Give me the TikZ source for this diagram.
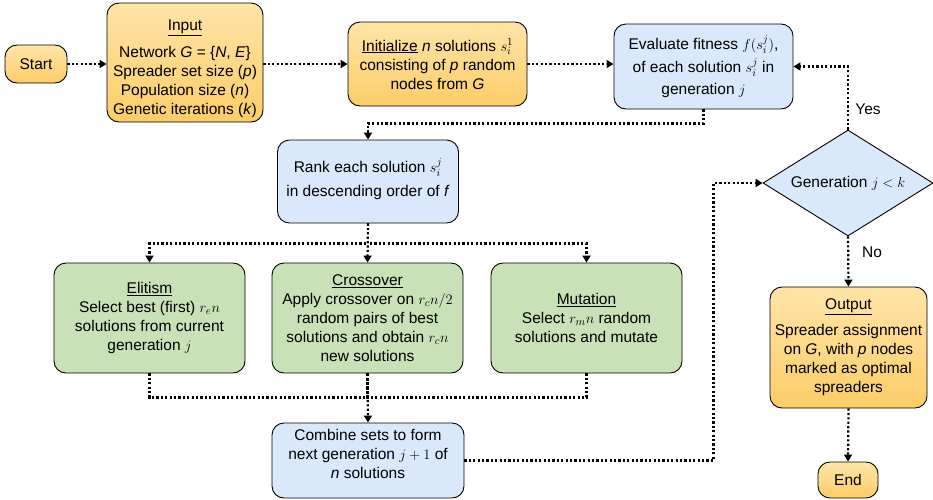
\documentclass[tikz,border=0pt]{standalone}
\usepackage{fontspec}
\setmainfont{Liberation Sans}
\usetikzlibrary{arrows.meta,shapes.geometric}

\definecolor{orangetop}{RGB}{255,228,168}
\definecolor{orangebot}{RGB}{252,205,104}
\definecolor{stepblue}{RGB}{218,232,252}
\definecolor{stepgreen}{RGB}{200,225,183}

\newcommand\boxfont{\fontsize{15.5}{19}\selectfont}

\tikzset{
  box/.style={draw=black, line width=0.9pt, rounded corners=12pt, align=center,
    font=\boxfont, inner sep=2pt},
  orangebox/.style={box, top color=orangetop, bottom color=orangebot},
  bluebox/.style={box, fill=stepblue},
  greenbox/.style={box, fill=stepgreen},
  flow/.style={line width=2.2pt, dash pattern=on 2.2pt off 2.2pt,
    -{Triangle[length=7pt,width=8pt]}},
  flowline/.style={line width=2.2pt, dash pattern=on 2.2pt off 2.2pt},
  lbl/.style={font=\boxfont, inner sep=0pt}
}

\begin{document}
\begin{tikzpicture}[x=1pt,y=-1pt]
\useasboundingbox (0,0) rectangle (933,499);

% ---- nodes ----
\node[orangebox, minimum width=62pt, minimum height=38pt] (start) at (36,64) {Start};

\node[orangebox, minimum width=156pt, minimum height=119pt] (input) at (185,62.5)
  {\rule{0pt}{23pt}\underline{Input}\\[8pt]
   Network \textit{G} = \{\textit{N}, \textit{E}\}\\
   Spreader set size (\textit{p})\\
   Population size (\textit{n})\\
   Genetic iterations (\textit{k})};

\node[orangebox, minimum width=179pt, minimum height=84pt] (init) at (437.5,64)
  {\underline{Initialize} \textit{n} solutions $s_i^1$\\
   consisting of \textit{p} random\\
   nodes from \textit{G}};

\node[bluebox, minimum width=179pt, minimum height=85pt] (eval) at (703.5,66.5)
  {Evaluate fitness $f(s_i^j)$,\\[4pt]
   of each solution $s_i^j$ in\\[3pt]
   generation $j$};

\node[bluebox, minimum width=181pt, minimum height=83pt] (rank) at (368,181.5)
  {Rank each solution $s_i^j$\\[5pt]
   in descending order of \textit{f}\rule[-8pt]{0pt}{0pt}};

\node[greenbox, minimum width=191pt, minimum height=110pt] (elit) at (149.5,318)
  {\underline{Elitism}\\
   Select best (first) $r_e n$\\
   solutions from current\\
   generation $j$};

\node[greenbox, minimum width=191pt, minimum height=110pt] (cross) at (367.5,318)
  {\underline{Crossover}\\
   Apply crossover on $r_c n/2$\\
   random pairs of best\\
   solutions and obtain $r_c n$\\
   new solutions};

\node[greenbox, minimum width=191pt, minimum height=110pt] (mut) at (586.5,318)
  {\underline{Mutation}\\
   Select $r_m n$ random\\
   solutions and mutate};

\node[bluebox, minimum width=192pt, minimum height=75pt] (comb) at (368,460.5)
  {Combine sets to form\\
   next generation $j+1$ of\\
   \textit{n} solutions\rule[-14pt]{0pt}{0pt}};

\node[draw=black, line width=0.9pt, fill=stepblue, diamond, aspect=1.6, inner sep=0pt,
      minimum width=170pt, minimum height=106pt, font=\boxfont] (dec) at (848,183)
  {Generation $j<k$};

\node[orangebox, minimum width=157pt, minimum height=121pt] (out) at (848.5,347.5)
  {\underline{Output}\\[7pt]
   Spreader assignment\\
   on \textit{G}, with \textit{p} nodes\\
   marked as optimal\\
   spreaders};

\node[orangebox, minimum width=60pt, minimum height=36pt] (end) at (848,480) {End};

% ---- connectors ----
\draw[flow] (start.east) -- (start.east -| input.west);
\draw[flow] (input.east |- init.west) -- (init.west);
\draw[flow] (init.east) -- (init.east -| eval.west);
\draw[flow] (eval.south) -- ++(0,14) -| (rank.north);

\draw[flow] (rank.south) -- (cross.north);
\draw[flow] (rank.south) -- ++(0,20) -| (elit.north);
\draw[flow] (rank.south) -- ++(0,20) -| (mut.north);

\draw[flowline] (elit.south) -- ++(0,24) -| (cross.south);
\draw[flowline] (mut.south) -- ++(0,24) -| (cross.south);
\draw[flow] (cross.south) -- (comb.north);

\draw[flow] (comb.east) -- ++(249,0) |- (dec.west);
\draw[flow] (dec.north) |- (eval.east);
\draw[flow] (dec.south) -- (out.north);
\draw[flow] (out.south) -- (end.north);

\node[lbl] (yes) at (868,109) {Yes};
\node[lbl] (no) at (872,252) {No};
\end{tikzpicture}
\end{document}
